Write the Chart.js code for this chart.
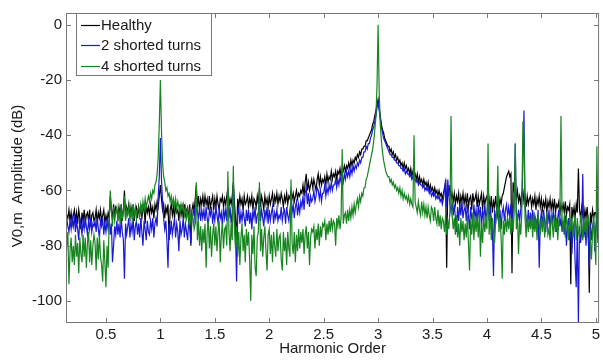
<!DOCTYPE html>
<html>
<head>
<meta charset="utf-8">
<script src="https://cdn.jsdelivr.net/npm/chart.js@4.4.0/dist/chart.umd.min.js"></script>
<style>
  html, body { margin: 0; padding: 0; background: #fff; }
  #wrap { width: 603px; height: 363px; }
</style>
</head>
<body>
<div id="wrap"><canvas id="spectrum" width="603" height="363"></canvas></div>
<script>
// harmonic order grid: first sample and spacing
const firstOrder = 0.10;
const orderStep = 0.01;

// amplitude in dB, one row = 0.1 harmonic order
const healthy = [
    -68,-71,-67,-72,-69,-70,-67,-71,-68,-72,
    -69,-67,-71,-68,-72,-67,-70,-74,-68,-71,
    -67,-72,-69,-68,-71,-67,-73,-69,-68,-71,
    -70,-67,-72,-68,-70,-67,-71,-69,-67,-72,
    -69,-71,-68,-70,-62,-67,-70,-65,-69,-66,
    -67,-70,-66,-69,-65,-71,-67,-60,-70,-66,
    -68,-65,-70,-66,-69,-65,-71,-67,-66,-70,
    -66,-69,-65,-70,-67,-66,-72,-65,-68,-66,
    -69,-65,-68,-66,-70,-65,-67,-64,-66,-62,
    -58,-63,-67,-65,-70,-66,-68,-65,-78,-67,
    -65,-69,-66,-70,-65,-68,-67,-71,-65,-69,
    -66,-70,-65,-69,-67,-66,-71,-65,-80,-67,
    -65,-68,-63,-58,-66,-62,-67,-63,-65,-62,
    -66,-62,-65,-63,-67,-62,-66,-64,-62,-67,
    -63,-66,-62,-65,-67,-63,-64,-62,-66,-63,
    -65,-62,-59,-66,-63,-65,-62,-57,-64,-70,
    -78,-63,-66,-62,-65,-63,-67,-62,-65,-64,
    -62,-66,-63,-65,-62,-67,-63,-64,-66,-62,
    -65,-59,-66,-62,-64,-67,-62,-65,-63,-66,
    -62,-65,-63,-61,-66,-62,-64,-61,-65,-62,
    -64,-61,-63,-66,-62,-64,-61,-65,-62,-63,
    -60,-63,-61,-64,-62,-60,-63,-61,-62,-60,
    -61,-58,-62,-57,-54,-60,-57,-60,-58,-56,
    -59,-56,-58,-60,-56,-54,-58,-55,-58,-56,
    -57,-55,-58,-54,-57,-55,-56,-53,-56,-54,
    -55,-53,-56,-53,-54,-52,-55,-52,-53,-51,
    -53,-51,-52,-50,-52,-49,-51,-49,-50,-48,
    -49,-47,-48,-46,-47,-45,-45,-44,-44,-42,
    -42,-41,-40,-39,-38,-36,-35,-33,-31,-29,
    -27,-30,-33,-36,-38,-39,-41,-42,-43,-44,
    -44,-46,-45,-47,-46,-48,-47,-49,-48,-50,
    -49,-51,-50,-52,-50,-52,-51,-53,-52,-54,
    -52,-55,-53,-55,-54,-56,-54,-57,-55,-57,
    -56,-58,-56,-58,-57,-59,-57,-60,-58,-60,
    -59,-61,-59,-61,-60,-62,-60,-62,-61,-63,
    -61,-59,-57,-88,-58,-62,-58,-63,-61,-64,
    -61,-65,-62,-64,-61,-66,-62,-64,-61,-65,
    -62,-65,-61,-66,-63,-62,-67,-61,-64,-63,
    -61,-66,-62,-65,-63,-61,-67,-62,-65,-63,
    -62,-66,-63,-67,-62,-68,-64,-66,-62,-67,
    -64,-67,-63,-65,-62,-61,-59,-57,-55,-54,
    -53,-55,-54,-90,-57,-60,-59,-63,-60,-64,
    -62,-65,-61,-60,-64,-62,-66,-62,-65,-63,
    -62,-66,-63,-65,-62,-67,-63,-65,-62,-66,
    -63,-67,-64,-66,-63,-68,-64,-66,-63,-67,
    -64,-67,-63,-68,-65,-66,-64,-69,-65,-67,
    -65,-68,-64,-69,-66,-67,-65,-94,-66,-69,
    -66,-70,-65,-68,-52,-67,-70,-66,-69,-71,
    -67,-70,-66,-71,-97,-68,-71,-67,-70,-68,
    -68,-71,-67,-70,-68,-72,-69,-71,-68,-70
];

const shorted2 = [
    -70,-74,-71,-76,-70,-73,-75,-71,-74,-70,
    -73,-70,-75,-71,-74,-78,-70,-73,-76,-71,
    -74,-70,-73,-76,-71,-74,-70,-75,-72,-73,
    -71,-75,-70,-74,-77,-71,-73,-70,-76,-72,
    -75,-71,-74,-70,-76,-72,-86,-80,-73,-76,
    -71,-76,-72,-77,-70,-75,-78,-92,-72,-76,
    -73,-70,-77,-72,-75,-70,-78,-73,-71,-76,
    -72,-77,-70,-75,-80,-71,-74,-78,-71,-75,
    -76,-71,-74,-70,-77,-72,-70,-73,-62,-55,
    -41,-56,-64,-70,-74,-71,-78,-88,-72,-76,
    -71,-76,-73,-70,-77,-72,-75,-82,-71,-76,
    -74,-70,-77,-72,-75,-78,-71,-74,-79,-70,
    -69,-66,-72,-62,-68,-70,-66,-71,-67,-70,
    -67,-71,-66,-70,-73,-67,-69,-66,-72,-68,
    -71,-66,-69,-72,-67,-70,-68,-73,-66,-70,
    -67,-71,-62,-70,-66,-72,-68,-58,-71,-75,
    -93,-69,-66,-72,-68,-71,-67,-70,-73,-67,
    -71,-67,-72,-68,-74,-67,-70,-66,-72,-69,
    -68,-63,-71,-67,-70,-73,-67,-70,-66,-72,
    -67,-71,-68,-66,-72,-68,-70,-67,-71,-69,
    -70,-66,-71,-68,-67,-72,-66,-69,-71,-67,
    -64,-68,-65,-70,-66,-64,-69,-65,-68,-64,
    -66,-62,-67,-61,-59,-65,-61,-66,-62,-64,
    -63,-60,-64,-62,-59,-60,-63,-60,-64,-61,
    -61,-58,-62,-59,-61,-58,-60,-57,-60,-58,
    -58,-56,-59,-56,-58,-55,-57,-55,-57,-54,
    -56,-53,-55,-53,-55,-52,-54,-51,-53,-51,
    -52,-50,-51,-49,-50,-48,-48,-46,-46,-44,
    -45,-43,-43,-41,-40,-38,-37,-35,-33,-30,
    -28,-31,-34,-37,-39,-41,-42,-43,-44,-45,
    -46,-47,-47,-48,-48,-49,-49,-50,-50,-51,
    -51,-52,-52,-53,-52,-54,-53,-54,-54,-55,
    -54,-56,-55,-56,-56,-57,-56,-58,-57,-58,
    -58,-59,-58,-60,-59,-60,-59,-61,-60,-62,
    -61,-62,-61,-63,-62,-63,-62,-64,-63,-65,
    -63,-60,-56,-66,-56,-62,-65,-68,-64,-69,
    -65,-70,-75,-66,-71,-65,-69,-64,-70,-67,
    -66,-71,-65,-69,-74,-66,-70,-72,-65,-70,
    -67,-72,-65,-70,-66,-73,-67,-71,-65,-70,
    -68,-63,-71,-66,-70,-74,-91,-67,-72,-66,
    -70,-72,-67,-74,-68,-66,-71,-67,-65,-69,
    -66,-70,-65,-72,-67,-64,-43,-68,-71,-67,
    -71,-67,-65,-50,-31,-65,-70,-72,-67,-73,
    -68,-72,-67,-74,-69,-71,-73,-67,-88,-71,
    -68,-73,-67,-71,-75,-68,-72,-67,-74,-69,
    -71,-67,-73,-68,-75,-70,-67,-73,-70,-75,
    -71,-76,-69,-80,-73,-70,-78,-72,-83,-74,
    -72,-86,-95,-74,-108,-73,-79,-75,-54,-77,
    -72,-80,-71,-76,-88,-72,-78,-73,-71,-82,
    -73,-70,-79,-71,-76,-72,-73,-75,-72,-74
];

const shorted4 = [
    -78,-85,-76,-88,-80,-75,-94,-82,-77,-86,
    -80,-87,-76,-84,-79,-90,-77,-83,-86,-76,
    -84,-77,-88,-79,-75,-86,-78,-87,-80,-76,
    -79,-89,-77,-85,-76,-84,-87,-93,-78,-86,
    -95,-80,-88,-70,-60,-68,-73,-66,-71,-68,
    -66,-71,-67,-72,-65,-70,-68,-62,-71,-67,
    -69,-66,-71,-67,-70,-65,-69,-66,-70,-67,
    -66,-69,-65,-68,-64,-67,-63,-66,-64,-62,
    -64,-61,-63,-60,-61,-58,-57,-54,-48,-36,
    -20,-38,-50,-55,-57,-60,-59,-62,-61,-64,
    -62,-65,-63,-66,-63,-67,-64,-66,-68,-65,
    -67,-65,-69,-66,-70,-67,-71,-68,-72,-69,
    -70,-74,-72,-57,-78,-71,-80,-73,-82,-74,
    -79,-72,-88,-75,-71,-81,-73,-84,-76,-72,
    -80,-73,-82,-75,-71,-86,-76,-72,-81,-74,
    -73,-80,-53,-75,-82,-72,-78,-51,-74,-81,
    -73,-84,-75,-87,-77,-72,-82,-76,-86,-74,
    -80,-75,-85,-100,-76,-83,-73,-88,-91,-77,
    -75,-57,-82,-74,-84,-77,-73,-82,-89,-76,
    -74,-83,-76,-86,-75,-80,-84,-74,-82,-77,
    -76,-85,-89,-75,-82,-77,-87,-75,-81,-84,
    -56,-79,-83,-75,-86,-76,-82,-74,-81,-75,
    -79,-74,-83,-76,-73,-81,-75,-87,-77,-74,
    -75,-73,-81,-74,-78,-72,-80,-73,-77,-72,
    -73,-71,-78,-72,-76,-71,-75,-70,-74,-71,
    -72,-80,-70,-73,-69,-74,-70,-45,-72,-69,
    -68,-72,-67,-71,-67,-70,-66,-69,-65,-68,
    -65,-63,-66,-62,-64,-61,-62,-59,-59,-56,
    -55,-53,-51,-49,-47,-45,-42,-38,-33,-22,
    0,-24,-36,-42,-46,-49,-51,-53,-54,-55,
    -55,-57,-56,-58,-57,-59,-58,-60,-59,-61,
    -59,-62,-60,-63,-61,-63,-62,-64,-62,-65,
    -63,-65,-66,-40,-64,-66,-68,-64,-67,-69,
    -64,-68,-65,-69,-66,-70,-66,-69,-71,-66,
    -67,-71,-66,-70,-72,-67,-73,-69,-74,-70,
    -71,-75,-69,-76,-71,-74,-67,-33,-69,-74,
    -70,-76,-69,-77,-72,-80,-70,-75,-71,-78,
    -72,-77,-69,-79,-89,-71,-76,-68,-78,-70,
    -75,-69,-77,-68,-84,-72,-79,-69,-75,-71,
    -74,-43,-76,-69,-78,-70,-75,-79,-71,-68,
    -51,-75,-70,-77,-92,-71,-76,-69,-75,-70,
    -74,-69,-76,-70,-75,-68,-43,-74,-69,-83,
    -71,-76,-68,-35,-40,-70,-77,-69,-75,-70,
    -74,-69,-77,-68,-75,-70,-78,-69,-72,-76,
    -70,-75,-69,-77,-72,-68,-76,-74,-78,-69,
    -72,-77,-69,-75,-70,-78,-71,-69,-33,-70,
    -75,-69,-77,-70,-72,-78,-69,-75,-70,-77,
    -72,-69,-78,-70,-75,-77,-69,-72,-78,-70,
    -75,-70,-77,-69,-72,-78,-85,-75,-69,-77,
    -87,-44,-76,-70,-77,-72,-69,-75,-70,-77
];

const seriesNames = ['Healthy', '2 shorted turns', '4 shorted turns'];
const xTicks = [0.5, 1, 1.5, 2, 2.5, 3, 3.5, 4, 4.5, 5];
const yTicks = [-100, -80, -60, -40, -20, 0];

const colors = ['#000000', '#1a1ad6', '#17851f'];
const fontFamily = "'Liberation Sans', Arial, Helvetica, sans-serif";

function toPoints(values) {
    return values.map((v, i) => ({ x: firstOrder + i * orderStep, y: v }));
}

const frame = {
    id: 'frame',
    afterDatasetsDraw(chart) {
        const { ctx, chartArea: a, scales: { x, y } } = chart;
        ctx.save();
        ctx.strokeStyle = '#777';
        ctx.lineWidth = 1;
        ctx.strokeRect(a.left + 0.5, a.top + 0.5, a.right - a.left - 1, a.bottom - a.top - 1);
        ctx.beginPath();
        xTicks.forEach(v => {
            const px = Math.round(x.getPixelForValue(v)) + 0.5;
            ctx.moveTo(px, a.bottom); ctx.lineTo(px, a.bottom - 5);
            ctx.moveTo(px, a.top); ctx.lineTo(px, a.top + 5);
        });
        yTicks.forEach(v => {
            const py = Math.round(y.getPixelForValue(v)) + 0.5;
            ctx.moveTo(a.left, py); ctx.lineTo(a.left + 5, py);
            ctx.moveTo(a.right, py); ctx.lineTo(a.right - 5, py);
        });
        ctx.stroke();

        // legend box in the upper left corner
        ctx.fillStyle = '#fff';
        ctx.fillRect(76, 13, 136, 63);
        ctx.strokeStyle = '#777';
        ctx.strokeRect(76.5, 13.5, 135, 62);
        ctx.font = '15px ' + fontFamily;
        ctx.textBaseline = 'middle';
        ctx.textAlign = 'left';
        seriesNames.forEach((name, i) => {
            const ly = 24.5 + i * 20.5;
            ctx.strokeStyle = colors[i];
            ctx.lineWidth = 1.2;
            ctx.beginPath();
            ctx.moveTo(81, Math.round(ly) + 0.5);
            ctx.lineTo(100, Math.round(ly) + 0.5);
            ctx.stroke();
            ctx.fillStyle = '#1a1a1a';
            ctx.fillText(name, 101, ly + 1);
        });

        // y axis title
        ctx.translate(18, 176);
        ctx.rotate(-Math.PI / 2);
        ctx.textAlign = 'center';
        ctx.fillText('V0,m  Amplitude (dB)', 0, 0);
        ctx.restore();
    }
};

new Chart(document.getElementById('spectrum'), {
    type: 'line',
    data: {
        datasets: [
            { label: seriesNames[0], data: toPoints(healthy), borderColor: colors[0], order: 3 },
            { label: seriesNames[1], data: toPoints(shorted2), borderColor: colors[1], order: 2 },
            { label: seriesNames[2], data: toPoints(shorted4), borderColor: colors[2], order: 1 }
        ]
    },
    options: {
        responsive: false,
        animation: false,
        devicePixelRatio: 1,
        layout: { padding: { top: 7, right: 2, left: 0, bottom: 0 } },
        elements: {
            line: { borderWidth: 1.2, tension: 0 },
            point: { radius: 0 }
        },
        plugins: { legend: { display: false }, tooltip: { enabled: false } },
        scales: {
            x: {
                type: 'linear',
                min: 0.133,
                max: 5.03,
                afterFit: s => { s.height = 40; },
                afterBuildTicks: s => { s.ticks = xTicks.map(v => ({ value: v })); },
                grid: { display: false, drawTicks: false },
                border: { display: false },
                ticks: {
                    padding: 3,
                    color: '#1a1a1a',
                    font: { family: fontFamily, size: 15 },
                    maxRotation: 0,
                    autoSkip: false,
                    callback: v => String(v)
                },
                title: {
                    display: true,
                    text: 'Harmonic Order',
                    color: '#1a1a1a',
                    font: { family: fontFamily, size: 15 },
                    padding: { top: 0, bottom: 5 }
                }
            },
            y: {
                min: -108,
                max: 4.3,
                afterFit: s => { s.width = 66; },
                afterBuildTicks: s => { s.ticks = yTicks.map(v => ({ value: v })); },
                grid: { display: false, drawTicks: false },
                border: { display: false },
                ticks: {
                    padding: 4,
                    color: '#1a1a1a',
                    font: { family: fontFamily, size: 15 },
                    autoSkip: false,
                    callback: v => String(v)
                }
            }
        }
    },
    plugins: [frame]
});
</script>
</body>
</html>
